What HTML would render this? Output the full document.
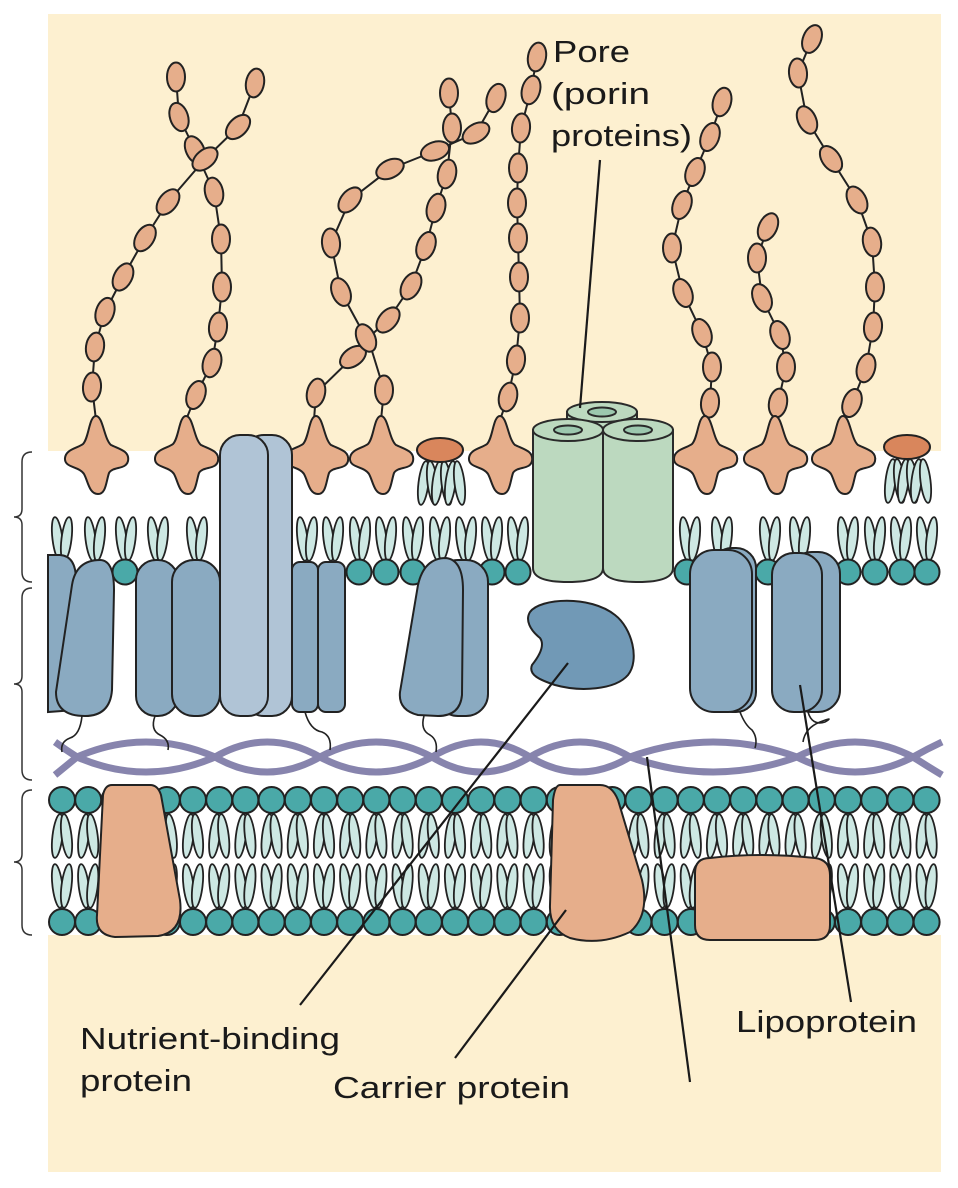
<!DOCTYPE html>
<html><head><meta charset="utf-8"><style>
html,body{margin:0;padding:0;background:#fff;}
svg{display:block;}
text{font-family:"Liberation Sans",Arial,sans-serif;font-size:31px;fill:#1a1a1a;}
</style></head><body>
<svg width="958" height="1188" viewBox="0 0 958 1188" xmlns="http://www.w3.org/2000/svg">
<defs>
 <g id="tu" fill="#cde8e3" stroke="#222" stroke-width="1.8">
  <ellipse cx="-4.5" cy="-23" rx="5" ry="22" transform="rotate(-7 -4.5 -23)"/>
  <ellipse cx="4.5" cy="-23" rx="5" ry="22" transform="rotate(7 4.5 -23)"/>
 </g>
 <g id="imu">
  <use href="#tu" transform="translate(0,813) scale(1,-1)"/>
  <use href="#tu" transform="translate(0,909)"/>
  <circle cx="0" cy="800" r="13" fill="#4aa9a8" stroke="#222" stroke-width="2"/>
  <circle cx="0" cy="922" r="13" fill="#4aa9a8" stroke="#222" stroke-width="2"/>
 </g>
 <path id="star" d="M0,-42 C7,-42 8,-19 15,-13 C23,-9 34,-7 32,3 C30,12 17,8 13,15 C10,24 10,36 2,36 C-7,36 -8,23 -12,16 C-17,8 -32,10 -31,0 C-30,-9 -18,-10 -13,-14 C-7,-20 -7,-42 0,-42 Z" fill="#e6ae8b" stroke="#222" stroke-width="2"/>
 <ellipse id="ov" cx="0" cy="0" rx="9" ry="14.5" fill="#e6ae8b" stroke="#222" stroke-width="2"/>
 <g id="hd"><circle cx="0" cy="0" r="12.5" fill="#4aa9a8" stroke="#222" stroke-width="2"/></g>
</defs>

<rect x="48" y="14" width="893" height="437" fill="#fdf0d0"/>
<rect x="48" y="935" width="893" height="237" fill="#fdf0d0"/>

<g fill="none" stroke="#333" stroke-width="1.5">
 <path d="M32,452 Q22,452 22,462 L22,509 Q22,517 14,517 Q22,517 22,525 L22,572 Q22,582 32,582"/>
 <path d="M32,588 Q22,588 22,598 L22,676 Q22,684 14,684 Q22,684 22,692 L22,770 Q22,780 32,780"/>
 <path d="M32,790 Q22,790 22,800 L22,854 Q22,862 14,862 Q22,862 22,870 L22,925 Q22,935 32,935"/>
</g>

<g fill="none" stroke="#222" stroke-width="2">
 <polyline points="96,420 92,387 95,347 105,312 123,277 145,238 168,202 205,159 238,127 255,83"/>
 <polyline points="186,420 196,395 212,363 218,327 222,287 221,239 214,192 195,150 179,117 176,77"/>
 <polyline points="314,420 316,393 353,357 366,338 341,292 331,243 350,200 390,169 435,151 476,133 496,98"/>
 <polyline points="381,420 384,390 368,338 388,320 411,286 426,246 436,208 447,174 452,128 449,93"/>
 <polyline points="500,420 508,397 516,360 520,318 519,277 518,238 517,203 518,168 521,128 531,90 537,57"/>
 <polyline points="705,420 710,403 712,367 702,333 683,293 672,248 682,205 695,172 710,137 722,102"/>
 <polyline points="775,420 778,403 786,367 780,335 762,298 757,258 768,227"/>
 <polyline points="843,420 852,403 866,368 873,327 875,287 872,242 857,200 831,159 807,120 798,73 812,39"/>
</g>
<g>
 <use href="#ov" transform="translate(92,387) rotate(4)"/><use href="#ov" transform="translate(95,347) rotate(8)"/><use href="#ov" transform="translate(105,312) rotate(18)"/><use href="#ov" transform="translate(123,277) rotate(27)"/><use href="#ov" transform="translate(145,238) rotate(32)"/><use href="#ov" transform="translate(168,202) rotate(38)"/><use href="#ov" transform="translate(238,127) rotate(45)"/><use href="#ov" transform="translate(255,83) rotate(10)"/>
 <use href="#ov" transform="translate(196,395) rotate(20)"/><use href="#ov" transform="translate(212,363) rotate(15)"/><use href="#ov" transform="translate(218,327) rotate(6)"/><use href="#ov" transform="translate(222,287) rotate(0)"/><use href="#ov" transform="translate(221,239) rotate(0)"/><use href="#ov" transform="translate(214,192) rotate(-12)"/><use href="#ov" transform="translate(195,150) rotate(-25)"/><use href="#ov" transform="translate(179,117) rotate(-18)"/><use href="#ov" transform="translate(176,77) rotate(0)"/>
 <use href="#ov" transform="translate(205,159) rotate(50)"/>
 <use href="#ov" transform="translate(316,393) rotate(12)"/><use href="#ov" transform="translate(353,357) rotate(55)"/><use href="#ov" transform="translate(341,292) rotate(-22)"/><use href="#ov" transform="translate(331,243) rotate(-5)"/><use href="#ov" transform="translate(350,200) rotate(40)"/><use href="#ov" transform="translate(390,169) rotate(65)"/><use href="#ov" transform="translate(435,151) rotate(72)"/><use href="#ov" transform="translate(476,133) rotate(60)"/><use href="#ov" transform="translate(496,98) rotate(18)"/>
 <use href="#ov" transform="translate(384,390) rotate(0)"/><use href="#ov" transform="translate(366,338) rotate(-25)"/><use href="#ov" transform="translate(388,320) rotate(40)"/><use href="#ov" transform="translate(411,286) rotate(28)"/><use href="#ov" transform="translate(426,246) rotate(20)"/><use href="#ov" transform="translate(436,208) rotate(15)"/><use href="#ov" transform="translate(447,174) rotate(12)"/><use href="#ov" transform="translate(452,128) rotate(0)"/><use href="#ov" transform="translate(449,93) rotate(0)"/>
 <use href="#ov" transform="translate(508,397) rotate(12)"/><use href="#ov" transform="translate(516,360) rotate(5)"/><use href="#ov" transform="translate(520,318)"/><use href="#ov" transform="translate(519,277)"/><use href="#ov" transform="translate(518,238)"/><use href="#ov" transform="translate(517,203)"/><use href="#ov" transform="translate(518,168)"/><use href="#ov" transform="translate(521,128) rotate(5)"/><use href="#ov" transform="translate(531,90) rotate(15)"/><use href="#ov" transform="translate(537,57) rotate(10)"/>
 <use href="#ov" transform="translate(710,403) rotate(5)"/><use href="#ov" transform="translate(712,367)"/><use href="#ov" transform="translate(702,333) rotate(-20)"/><use href="#ov" transform="translate(683,293) rotate(-20)"/><use href="#ov" transform="translate(672,248)"/><use href="#ov" transform="translate(682,205) rotate(20)"/><use href="#ov" transform="translate(695,172) rotate(20)"/><use href="#ov" transform="translate(710,137) rotate(20)"/><use href="#ov" transform="translate(722,102) rotate(15)"/>
 <use href="#ov" transform="translate(778,403) rotate(10)"/><use href="#ov" transform="translate(786,367)"/><use href="#ov" transform="translate(780,335) rotate(-20)"/><use href="#ov" transform="translate(762,298) rotate(-22)"/><use href="#ov" transform="translate(757,258)"/><use href="#ov" transform="translate(768,227) rotate(25)"/>
 <use href="#ov" transform="translate(852,403) rotate(20)"/><use href="#ov" transform="translate(866,368) rotate(15)"/><use href="#ov" transform="translate(873,327) rotate(5)"/><use href="#ov" transform="translate(875,287)"/><use href="#ov" transform="translate(872,242) rotate(-10)"/><use href="#ov" transform="translate(857,200) rotate(-28)"/><use href="#ov" transform="translate(831,159) rotate(-35)"/><use href="#ov" transform="translate(807,120) rotate(-25)"/><use href="#ov" transform="translate(798,73) rotate(-5)"/><use href="#ov" transform="translate(812,39) rotate(22)"/>
</g>

<g>
 <use href="#tu" transform="translate(62,562)"/><use href="#tu" transform="translate(95,562)"/><use href="#tu" transform="translate(126,562)"/><use href="#tu" transform="translate(158,562)"/><use href="#tu" transform="translate(197,562)"/>
 <use href="#tu" transform="translate(307,562)"/><use href="#tu" transform="translate(333,562)"/><use href="#tu" transform="translate(360,562)"/><use href="#tu" transform="translate(386,562)"/><use href="#tu" transform="translate(413,562)"/><use href="#tu" transform="translate(440,562)"/><use href="#tu" transform="translate(466,562)"/><use href="#tu" transform="translate(492,562)"/><use href="#tu" transform="translate(518,562)"/>
 <use href="#tu" transform="translate(690,562)"/><use href="#tu" transform="translate(722,562)"/><use href="#tu" transform="translate(770,562)"/><use href="#tu" transform="translate(800,562)"/><use href="#tu" transform="translate(848,562)"/><use href="#tu" transform="translate(875,562)"/><use href="#tu" transform="translate(901,562)"/><use href="#tu" transform="translate(927,562)"/>
 <use href="#hd" x="125" y="572"/><use href="#hd" x="359" y="572"/><use href="#hd" x="386" y="572"/><use href="#hd" x="413" y="572"/><use href="#hd" x="492" y="572"/><use href="#hd" x="518" y="572"/><use href="#hd" x="687" y="572"/><use href="#hd" x="768" y="572"/><use href="#hd" x="848" y="572"/><use href="#hd" x="875" y="572"/><use href="#hd" x="902" y="572"/><use href="#hd" x="927" y="572"/>
</g>

<g>
 <use href="#tu" transform="translate(428,460) scale(1,-1)"/><use href="#tu" transform="translate(442,460) scale(1,-1)"/><use href="#tu" transform="translate(455,460) scale(1,-1)"/>
 <ellipse cx="440" cy="450" rx="23" ry="12" fill="#d9865c" stroke="#222" stroke-width="2"/>
 <use href="#tu" transform="translate(895,458) scale(1,-1)"/><use href="#tu" transform="translate(908,458) scale(1,-1)"/><use href="#tu" transform="translate(921,458) scale(1,-1)"/>
 <ellipse cx="907" cy="447" rx="23" ry="12" fill="#d9865c" stroke="#222" stroke-width="2"/>
</g>

<use href="#star" x="96" y="458"/><use href="#star" x="186" y="458"/><use href="#star" x="316" y="458"/><use href="#star" x="381" y="458"/><use href="#star" x="500" y="458"/><use href="#star" x="705" y="458"/><use href="#star" x="775" y="458"/><use href="#star" x="843" y="458"/>

<g stroke="#2a2a2a" stroke-width="2">
 <path d="M567,412 L567,560 L637,560 L637,412 Z" fill="#bcd9bf"/>
 <ellipse cx="602" cy="412" rx="35" ry="10" fill="#bcd9bf"/>
 <ellipse cx="602" cy="412" rx="14" ry="4.5" fill="#9cc8ae"/>
 <path d="M533,430 L533,568 Q533,582 568,582 Q603,582 603,568 L603,430 Z" fill="#bcd9bf"/>
 <ellipse cx="568" cy="430" rx="35" ry="11" fill="#bcd9bf"/>
 <ellipse cx="568" cy="430" rx="14" ry="4.5" fill="#9cc8ae"/>
 <path d="M603,430 L603,568 Q603,582 638,582 Q673,582 673,568 L673,430 Z" fill="#bcd9bf"/>
 <ellipse cx="638" cy="430" rx="35" ry="11" fill="#bcd9bf"/>
 <ellipse cx="638" cy="430" rx="14" ry="4.5" fill="#9cc8ae"/>
</g>

<g fill="none" stroke="#8784ad" stroke-width="7">
 <path d="M55,742 Q66,750 77,757 Q146,787 215,757 Q267,727 320,757 Q376,787 432,757 Q481,727 530,757 Q580,787 630,757 Q713,727 797,757 Q855,787 913,757 Q927,749 942,742"/>
 <path d="M55,775 Q66,766 77,757 Q146,727 215,757 Q267,787 320,757 Q376,727 432,757 Q481,787 530,757 Q580,727 630,757 Q713,787 797,757 Q855,727 913,757 Q927,766 942,775"/>
</g>

<g fill="none" stroke="#222" stroke-width="1.6">
 <path d="M82,716 Q80,735 70,738 Q60,742 62,752"/>
 <path d="M155,716 Q150,730 160,735 Q170,740 168,750"/>
 <path d="M305,712 Q310,730 322,732 Q332,736 330,750"/>
 <path d="M424,716 Q420,730 430,735 Q438,740 436,752"/>
 <path d="M740,712 Q745,725 752,730 Q758,738 755,748"/>
 <path d="M808,712 Q812,726 825,722 Q835,716 820,722 Q805,728 803,742"/>
</g>

<g stroke="#222" stroke-width="2" fill="#8aaac1">
 <path d="M48,555 L60,555 Q76,556 76,580 L76,710 L48,712 Z"/>
 <path d="M72,585 Q76,560 100,560 Q114,560 114,590 L112,690 Q110,716 85,716 Q56,716 56,692 Z"/>
 <rect x="136" y="560" width="42" height="156" rx="20"/>
 <rect x="172" y="560" width="48" height="156" rx="22"/>
 <rect x="244" y="435" width="48" height="281" rx="20" fill="#b0c4d6"/>
 <rect x="220" y="435" width="48" height="281" rx="20" fill="#b0c4d6"/>
 <rect x="292" y="562" width="26" height="150" rx="8"/>
 <rect x="318" y="562" width="27" height="150" rx="8"/>
 <rect x="436" y="560" width="52" height="156" rx="22"/>
 <path d="M418,585 Q424,558 446,558 Q463,560 463,590 L462,695 Q460,716 438,716 L418,715 Q398,710 400,692 Z"/>
 <rect x="712" y="548" width="44" height="164" rx="20"/>
 <rect x="690" y="550" width="62" height="162" rx="24"/>
 <rect x="790" y="552" width="50" height="160" rx="22"/>
 <rect x="772" y="553" width="50" height="159" rx="22"/>
 <path d="M530,612 C540,598 590,595 615,615 C632,628 640,660 628,675 C615,690 580,692 555,685 C540,680 528,675 532,665 C540,655 545,645 540,638 C530,630 525,620 530,612 Z" fill="#7199b6"/>
</g>

<g>
 <use href="#imu" x="62"/><use href="#imu" x="88.2"/><use href="#imu" x="114.4"/><use href="#imu" x="140.6"/><use href="#imu" x="166.8"/><use href="#imu" x="193"/><use href="#imu" x="219.2"/><use href="#imu" x="245.4"/><use href="#imu" x="271.6"/><use href="#imu" x="297.8"/><use href="#imu" x="324"/><use href="#imu" x="350.2"/><use href="#imu" x="376.4"/><use href="#imu" x="402.6"/><use href="#imu" x="428.8"/><use href="#imu" x="455"/><use href="#imu" x="481.2"/><use href="#imu" x="507.4"/><use href="#imu" x="533.6"/><use href="#imu" x="559.8"/><use href="#imu" x="586"/><use href="#imu" x="612.2"/><use href="#imu" x="638.4"/><use href="#imu" x="664.6"/><use href="#imu" x="690.8"/><use href="#imu" x="717"/><use href="#imu" x="743.2"/><use href="#imu" x="769.4"/><use href="#imu" x="795.6"/><use href="#imu" x="821.8"/><use href="#imu" x="848"/><use href="#imu" x="874.2"/><use href="#imu" x="900.4"/><use href="#imu" x="926.6"/>
</g>

<g stroke="#222" stroke-width="2" fill="#e6ae8b">
 <path d="M112,785 L150,785 Q158,785 161,795 L180,900 Q184,932 158,936 L115,937 Q95,935 97,915 L103,795 Q105,785 112,785 Z"/>
 <path d="M560,785 L600,785 Q612,785 618,800 L642,880 Q650,915 630,932 Q600,946 570,938 Q549,930 550,905 L553,800 Q555,785 560,785 Z"/>
 <path d="M710,858 Q760,852 815,858 Q830,860 830,875 L830,925 Q830,940 815,940 L710,940 Q695,940 695,925 L695,873 Q695,858 710,858 Z"/>
</g>

<g stroke="#1a1a1a" stroke-width="2.2" fill="none">
 <line x1="600" y1="160" x2="580" y2="408"/>
 <line x1="300" y1="1005" x2="568" y2="663"/>
 <line x1="455" y1="1058" x2="566" y2="910"/>
 <line x1="690" y1="1082" x2="647" y2="757"/>
 <line x1="851" y1="1002" x2="800" y2="685"/>
</g>

<text x="553" y="62" textLength="77" lengthAdjust="spacingAndGlyphs">Pore</text>
<text x="551" y="104" textLength="99" lengthAdjust="spacingAndGlyphs">(porin</text>
<text x="551" y="146" textLength="141" lengthAdjust="spacingAndGlyphs">proteins)</text>
<text x="80" y="1049" textLength="260" lengthAdjust="spacingAndGlyphs">Nutrient-binding</text>
<text x="80" y="1091" textLength="112" lengthAdjust="spacingAndGlyphs">protein</text>
<text x="333" y="1098" textLength="237" lengthAdjust="spacingAndGlyphs">Carrier protein</text>
<text x="736" y="1032" textLength="181" lengthAdjust="spacingAndGlyphs">Lipoprotein</text>
</svg>
</body></html>
